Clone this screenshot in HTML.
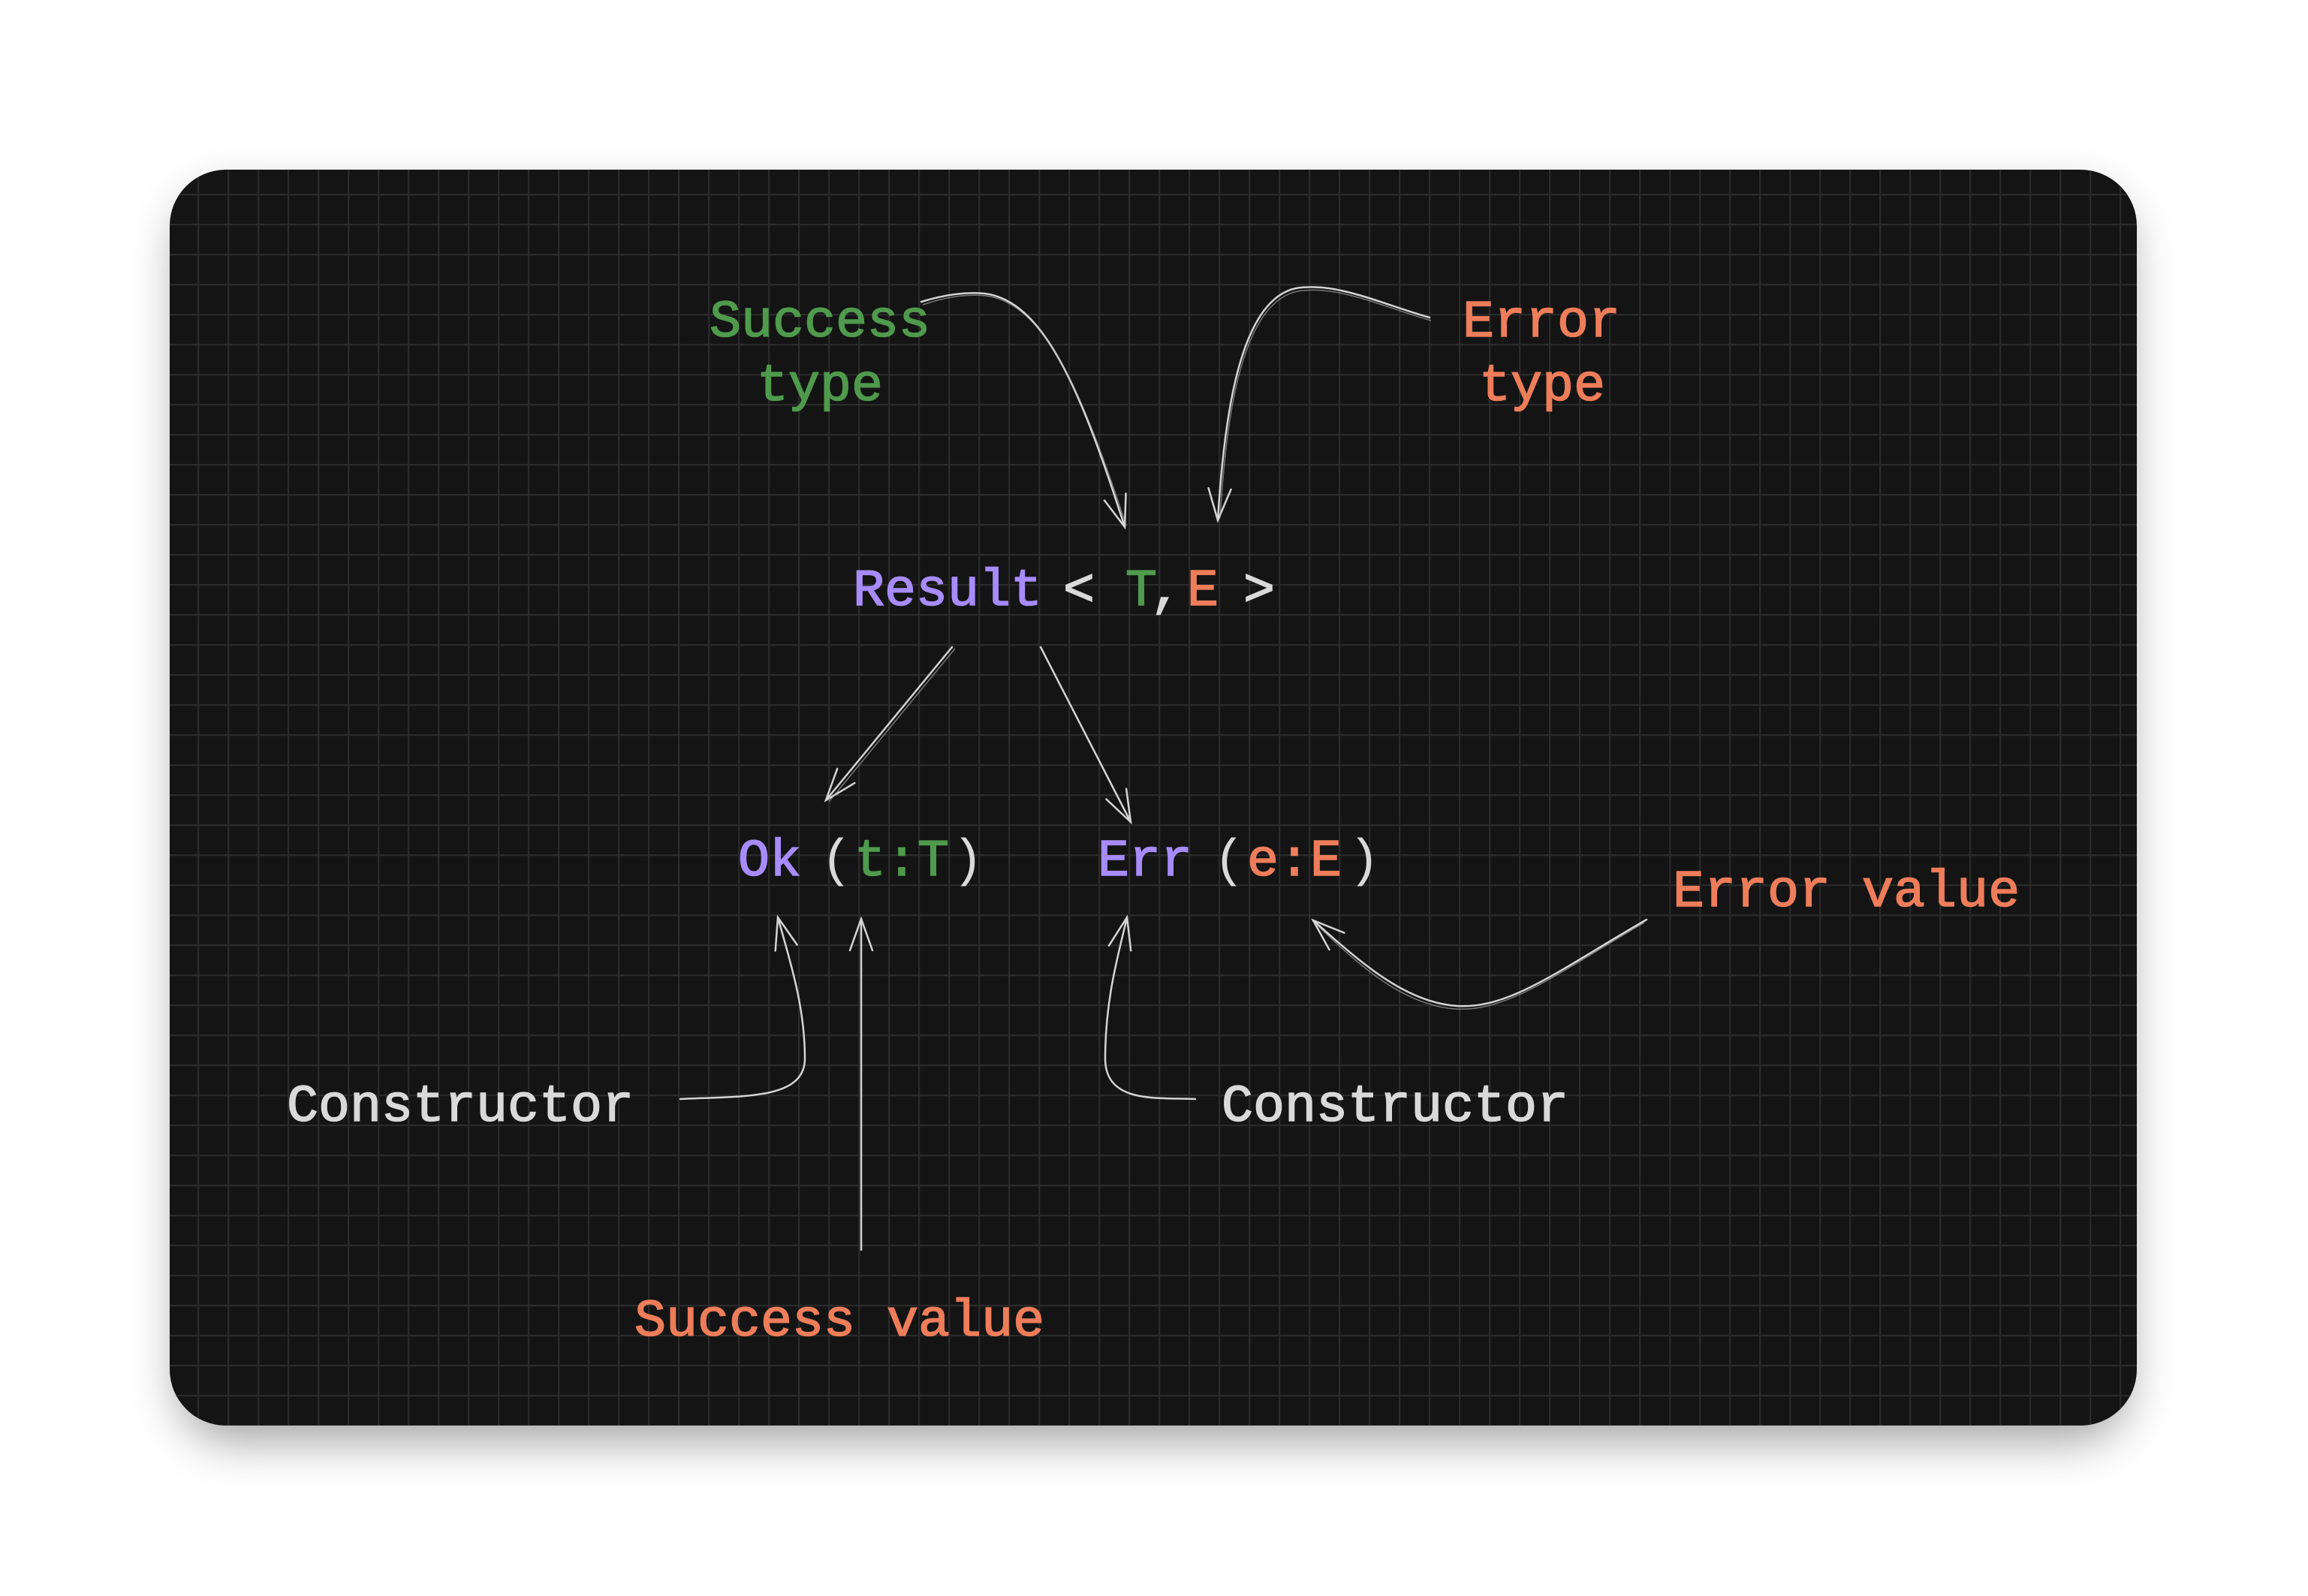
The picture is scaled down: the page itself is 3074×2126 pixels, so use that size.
<!DOCTYPE html>
<html><head><meta charset="utf-8"><style>
html,body{margin:0;padding:0;background:#fff;}
svg{display:block;}
text{font-family:"Liberation Mono",monospace;font-size:70px;stroke-width:1.6px;}
</style></head><body>
<svg width="3074" height="2126" viewBox="0 0 3074 2126" xmlns="http://www.w3.org/2000/svg">
<defs>
<pattern id="g" x="263" y="258" width="40" height="40" patternUnits="userSpaceOnUse">
<path d="M1 0V40M0 1H40" stroke="#2a2a2a" stroke-width="2.5" fill="none"/>
</pattern>
<filter id="sh" x="-10%" y="-10%" width="120%" height="130%">
<feGaussianBlur stdDeviation="30"/>
</filter>
<marker id="a" markerWidth="60" markerHeight="60" refX="50" refY="30" orient="auto" markerUnits="userSpaceOnUse">
<path d="M8 15 L50 30 L8 45" fill="none" stroke="#d4d4d4" stroke-width="2.5" stroke-linecap="round"/>
</marker>
</defs>
<rect x="236" y="256" width="2600" height="1665" rx="75" fill="rgba(0,0,0,0.35)" filter="url(#sh)"/>
<rect x="226" y="226" width="2620" height="1673" rx="75" fill="#141414"/>
<rect x="226" y="226" width="2620" height="1673" rx="75" fill="url(#g)"/>

<g fill="none" stroke="#d4d4d4" stroke-width="2.5" stroke-linecap="round" marker-end="url(#a)">
<path d="M1227,402 C1250,395 1280,388 1311,391 C1390,400 1440,520 1498,702"/>
<path d="M1904,423 C1840,405 1780,375 1726,384 C1650,400 1630,560 1622,693"/>
<path d="M1268,862 L1100,1066"/>
<path d="M1386,862 L1506,1095"/>
<path d="M906,1464 C990,1460 1072,1465 1072,1410 C1072,1340 1052,1280 1036,1222"/>
<path d="M1147,1665 L1147,1224"/>
<path d="M1592,1464 C1540,1462 1472,1470 1472,1410 C1472,1330 1490,1270 1501,1222"/>
<path d="M2193,1225 C2080,1290 2010,1345 1940,1340 C1870,1335 1810,1280 1749,1226"/>
</g>
<g fill="none" stroke="#bdbdbd" stroke-width="1.5" opacity="0.6">
<path d="M1229,406 C1252,398 1282,391 1313,394 C1392,404 1442,524 1500,700"/>
<path d="M1906,427 C1842,409 1782,379 1728,388 C1652,404 1633,560 1625,690"/>
<path d="M1272,864 L1104,1068"/>
<path d="M2190,1229 C2078,1294 2008,1349 1938,1344 C1868,1339 1808,1284 1752,1230"/>
</g>

<g>
<text x="945" y="448" fill="#4f9a4c" stroke="#4f9a4c">Success</text>
<text x="1008" y="533" fill="#4f9a4c" stroke="#4f9a4c">type</text>
<text x="1948" y="448" fill="#ee7d5a" stroke="#ee7d5a">Error</text>
<text x="1970" y="533" fill="#ee7d5a" stroke="#ee7d5a">type</text>

<text x="1136" y="806" fill="#a78bfa" stroke="#a78bfa">Result</text>
<text x="1416" y="806" fill="#d9d9d9" stroke="#d9d9d9">&lt;</text>
<text x="1499" y="806" fill="#4f9a4c" stroke="#4f9a4c">T</text>
<text x="1532" y="806" fill="#d9d9d9" stroke="#d9d9d9">,</text>
<text x="1581" y="806" fill="#ee7d5a" stroke="#ee7d5a">E</text>
<text x="1656" y="806" fill="#d9d9d9" stroke="#d9d9d9">&gt;</text>

<text x="983" y="1166" fill="#a78bfa" stroke="#a78bfa">Ok</text>
<text x="1093" y="1166" fill="#d9d9d9" font-size="80">(</text>
<text x="1138" y="1166" fill="#4f9a4c" stroke="#4f9a4c">t:T</text>
<text x="1268" y="1166" fill="#d9d9d9" font-size="80">)</text>
<text x="1462" y="1166" fill="#a78bfa" stroke="#a78bfa">Err</text>
<text x="1616" y="1166" fill="#d9d9d9" font-size="80">(</text>
<text x="1661" y="1166" fill="#ee7d5a" stroke="#ee7d5a">e:E</text>
<text x="1796" y="1166" fill="#d9d9d9" font-size="80">)</text>

<text x="2228" y="1207" fill="#ee7d5a" stroke="#ee7d5a">Error value</text>
<text x="382" y="1493" fill="#d9d9d9" stroke="#d9d9d9">Constructor</text>
<text x="1627" y="1493" fill="#d9d9d9" stroke="#d9d9d9">Constructor</text>
<text x="845" y="1779" fill="#ee7d5a" stroke="#ee7d5a">Success value</text>
</g>
</svg>
</body></html>
